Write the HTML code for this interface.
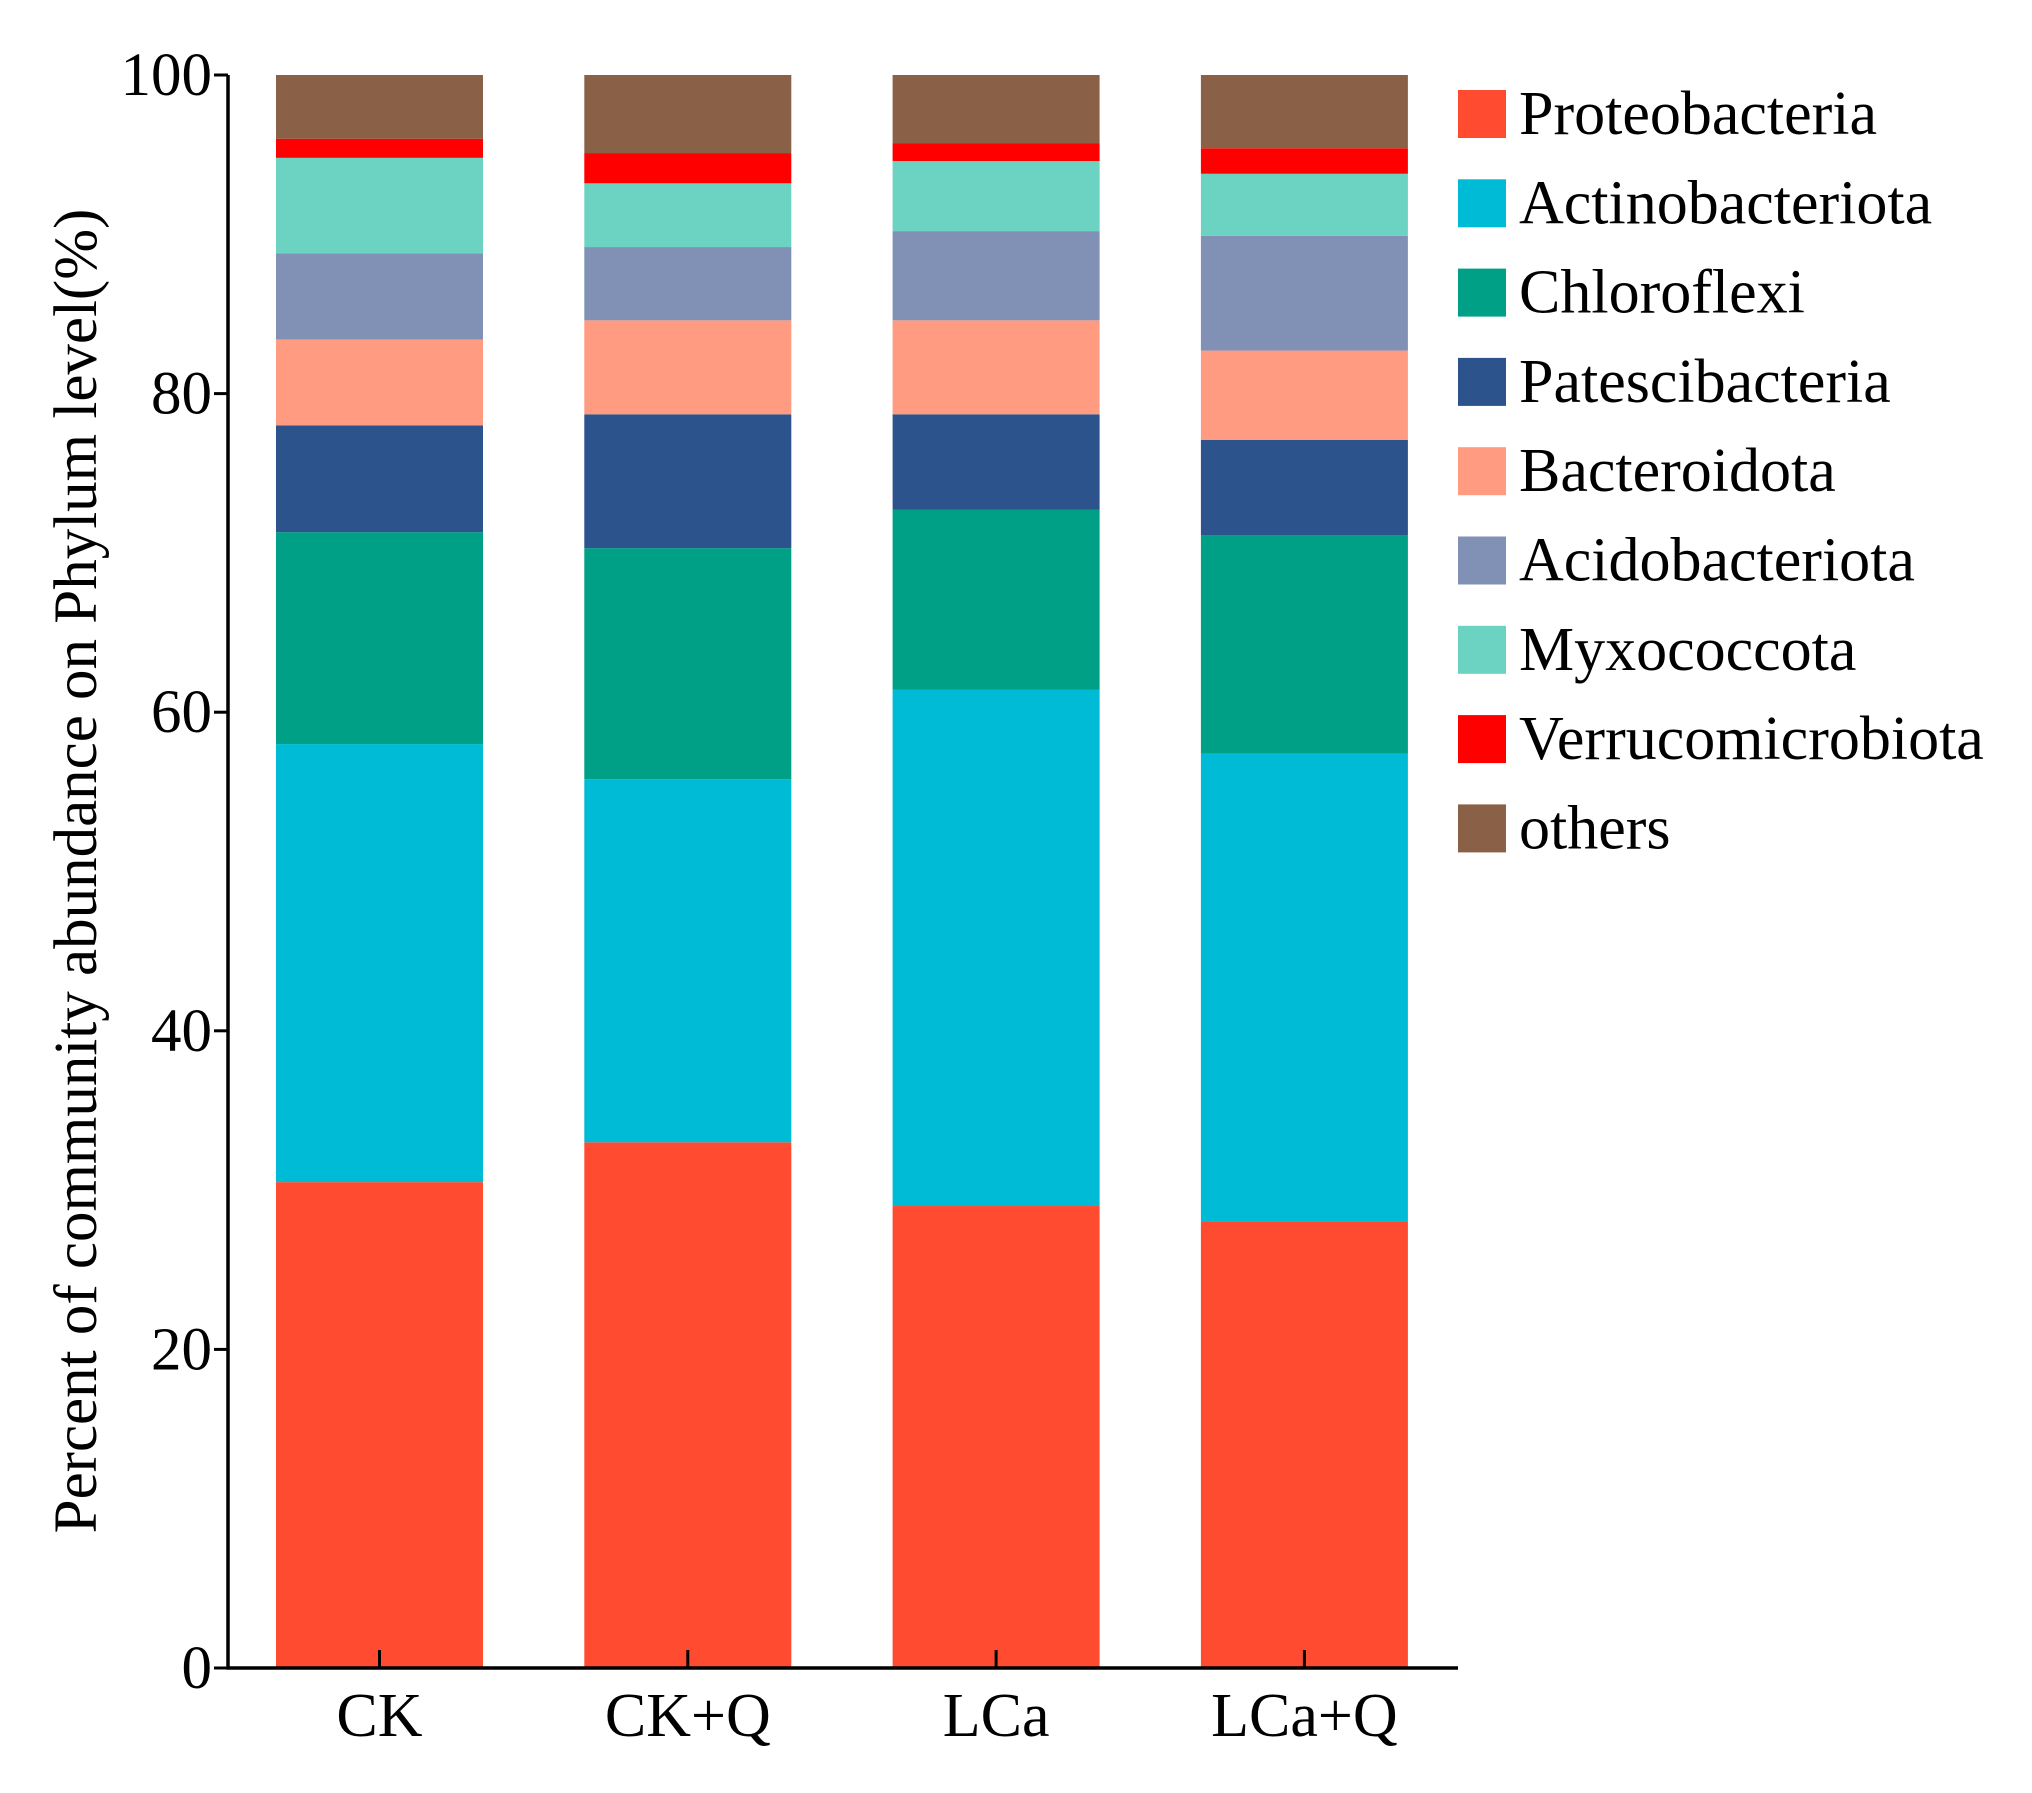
<!DOCTYPE html>
<html><head><meta charset="utf-8"><style>
body{margin:0;background:#fff}
svg text{font-family:"Liberation Serif",serif;fill:#000}
</style></head><body>
<svg id="chart" width="2032" height="1788" viewBox="0 0 2032 1788" xmlns="http://www.w3.org/2000/svg">
<g id="bars"></g>
<g id="axes"></g>
<g id="legend"></g>
<text transform="translate(96,871) rotate(-90)" text-anchor="middle" font-size="61">Percent of community abundance on Phylum level(%)</text>
</svg>
<script>
const categories = ["CK","CK+Q","LCa","LCa+Q"];
const seriesNames = ["Proteobacteria","Actinobacteriota","Chloroflexi","Patescibacteria","Bacteroidota","Acidobacteriota","Myxococcota","Verrucomicrobiota","others"];
const proteobacteria = [30.5,33.0,29.0,28.0];
const actinobacteriota = [27.5,22.8,32.4,29.4];
const chloroflexi = [13.3,14.5,11.3,13.7];
const patescibacteria = [6.7,8.4,6.0,6.0];
const bacteroidota = [5.4,5.9,5.9,5.6];
const acidobacteriota = [5.4,4.6,5.6,7.2];
const myxococcota = [6.0,4.0,4.4,3.9];
const verrucomicrobiota = [1.2,1.9,1.1,1.6];
const others = [4.0,4.9,4.3,4.6];
const yTicks = [0,20,40,60,80,100];
const colors = ["#FF4B30","#00BBD6","#00A086","#2C538B","#FF9B80","#8091B5","#6CD2C2","#FF0000","#8A6046"];

const series=[proteobacteria,actinobacteriota,chloroflexi,patescibacteria,bacteroidota,acidobacteriota,myxococcota,verrucomicrobiota,others];
const NS="http://www.w3.org/2000/svg";
const X0=228,X1=1458,Y0=1668,Y100=75;
const bandStart=276, bandStep=308.3, barW=207;
const y=v=>Y0-(v/100)*(Y0-Y100);
const xc=i=>bandStart+barW/2+i*bandStep;
function mk(tag,attrs,parent){const e=document.createElementNS(NS,tag);for(const k in attrs)e.setAttribute(k,attrs[k]);parent.appendChild(e);return e;}
const bars=document.getElementById('bars'),axes=document.getElementById('axes'),legend=document.getElementById('legend');
categories.forEach((c,i)=>{
  let cum=0;
  series.forEach((s,j)=>{
    let top=cum+s[i];
    if(j===series.length-1) top=Math.max(top,100);
    const r=mk('rect',{x:xc(i)-barW/2,y:y(top),width:barW,height:y(cum)-y(top),fill:colors[j]},bars);
    
    
    cum+=s[i];
  });
  const t=mk('line',{x1:xc(i),x2:xc(i),y1:Y0,y2:Y0-18,stroke:'#000','stroke-width':3},axes);
  
  
  const l=mk('text',{x:xc(i),y:Y0+68,'text-anchor':'middle','font-size':62},axes);
  l.textContent=c;
  
  
});
const ya=mk('path',{d:`M${X0},${Y100} V${Y0} H${X1}`,stroke:'#000','stroke-width':3.5,fill:'none'},axes);


yTicks.forEach(v=>{
  const t=mk('line',{x1:X0-14,x2:X0,y1:y(v),y2:y(v),stroke:'#000','stroke-width':3},axes);
  
  
  const l=mk('text',{x:X0-16,y:y(v)+20,'text-anchor':'end','font-size':61},axes);
  l.textContent=v;
  
  
});
seriesNames.forEach((n,j)=>{
  const cy=114+j*89.3;
  const r=mk('rect',{x:1458,y:cy-24,width:48,height:48,fill:colors[j]},legend);
  
  
  const t=mk('text',{x:1519,y:cy+20,'font-size':62},legend);
  t.textContent=n;
  
  
});
</script>
</body></html>
